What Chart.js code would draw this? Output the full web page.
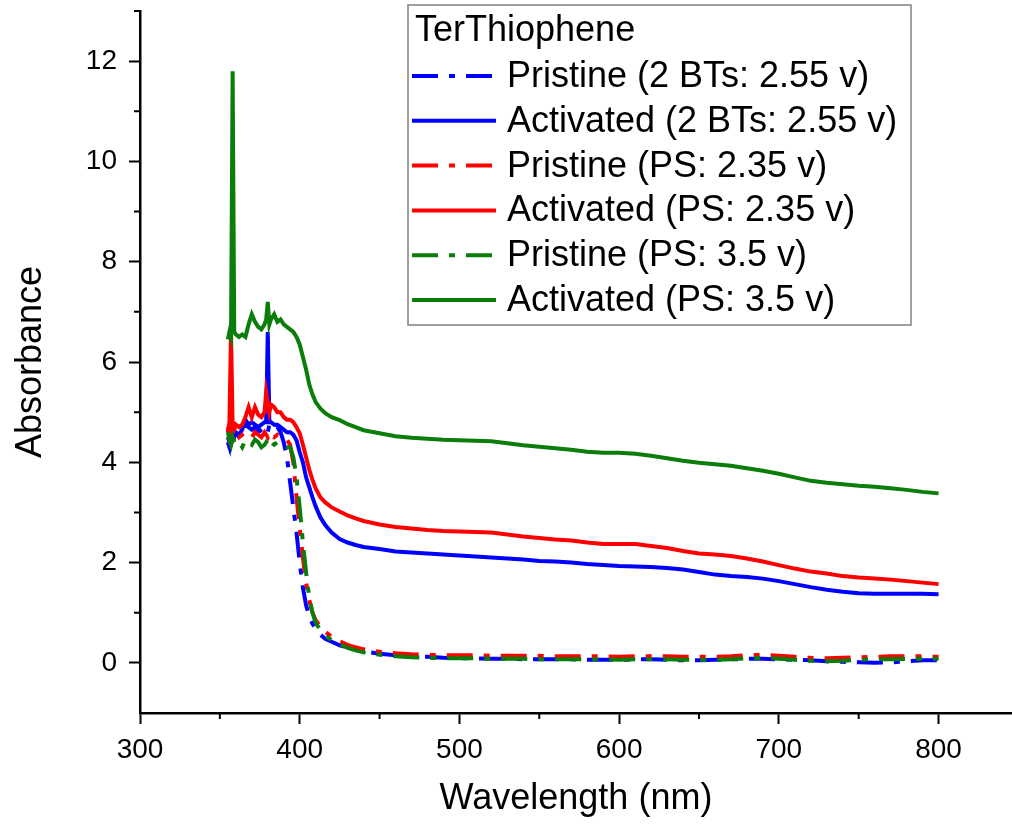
<!DOCTYPE html>
<html lang="en">
<head>
  <meta charset="UTF-8" />
  <title>TerThiophene Absorbance</title>
  <script src="https://cdn.jsdelivr.net/npm/chart.js"></script>
  <style>
    body { margin: 0; background: #fff; }
    .chart-box { width: 1012px; height: 826px; position: relative; }
  </style>
</head>
<body>
  <div class="chart-box">
    <canvas id="absChart"></canvas>
  </div>

  <script>
  // wavelength grid (nm), denser in the noisy 355-410 region
  const wavelength = [
    355, 356, 357, 358, 359, 360, 362, 364, 366, 368, 370, 372, 374, 376, 378,
    379, 380, 381, 382, 384, 386, 388, 390, 392, 394, 396, 398, 400, 402, 404, 406, 408, 410,
    413, 416, 420, 425, 430, 435, 440,
    450, 460, 470, 480, 490, 500, 510, 520, 530, 540, 550, 560, 570, 580, 590, 600, 610, 620,
    630, 640, 650, 660, 670, 680, 690, 700, 710, 720, 730, 740, 750, 760, 770, 780, 790, 800
  ];

  const pristine2BT = [
    4.4, 4.3, 4.6, 4.5, 4.6, 4.5, 4.55, 4.5, 4.75, 4.7, 4.65, 4.7, 4.6, 4.65, 4.7,
    4.7, 4.6, 4.75, 4.7, 4.65, 4.7, 4.6, 4.4, 4.1, 3.6, 3.1, 2.6, 2.0, 1.5, 1.15, 0.92, 0.78, 0.68,
    0.56, 0.48, 0.42, 0.35, 0.3, 0.26, 0.23,
    0.18, 0.15, 0.13, 0.12, 0.1, 0.09, 0.09, 0.08, 0.08, 0.07, 0.07, 0.07, 0.07, 0.06, 0.06, 0.06, 0.07, 0.07,
    0.06, 0.05, 0.05, 0.06, 0.07, 0.08, 0.08, 0.07, 0.06, 0.05, 0.03, 0.02, 0.01, 0.0, 0.01, 0.03, 0.05, 0.05
  ];
  const activated2BT = [
    4.5, 4.4, 4.6, 4.55, 4.5, 4.6, 4.55, 4.65, 4.85, 4.75, 4.8, 4.75, 4.7, 4.75, 4.8,
    4.8, 6.6, 4.8, 4.8, 4.75, 4.75, 4.7, 4.65, 4.6, 4.6, 4.55, 4.44, 4.2, 4.0, 3.7, 3.5, 3.3, 3.12,
    2.9, 2.75, 2.6, 2.47, 2.4, 2.35, 2.31,
    2.27, 2.22, 2.2, 2.18, 2.16, 2.14, 2.12, 2.1, 2.08, 2.06, 2.03, 2.02, 2.0, 1.97, 1.95, 1.93, 1.92, 1.91,
    1.89, 1.86, 1.81, 1.76, 1.73, 1.71, 1.68, 1.63, 1.57, 1.51, 1.46, 1.42, 1.39, 1.38, 1.38, 1.38, 1.38, 1.37
  ];
  const pristinePS235 = [
    4.7, 4.5, 4.6, 4.45, 4.55, 4.6, 4.5, 4.55, 4.6, 4.55, 4.5, 4.6, 4.55, 4.5, 4.6,
    4.55, 4.5, 4.6, 4.55, 4.5, 4.55, 4.5, 4.45, 4.45, 4.35, 4.0, 3.3, 2.7, 2.1, 1.6, 1.25, 1.0, 0.85,
    0.72, 0.62, 0.52, 0.43, 0.36, 0.31, 0.27,
    0.22, 0.19, 0.17, 0.16, 0.15, 0.15, 0.15, 0.14, 0.14, 0.14, 0.14, 0.13, 0.13, 0.13, 0.13, 0.12, 0.13, 0.13,
    0.13, 0.12, 0.12, 0.12, 0.13, 0.15, 0.16, 0.14, 0.12, 0.1, 0.09, 0.1, 0.11, 0.12, 0.13, 0.13, 0.13, 0.12
  ];
  const activatedPS235 = [
    4.6, 4.8, 6.6, 4.7, 4.65, 4.75, 4.7, 4.75, 4.9, 5.1, 4.9, 5.1, 4.95, 4.9, 5.0,
    5.4, 5.2, 5.0, 5.15, 5.1, 5.0, 5.0, 4.9, 4.85, 4.85, 4.8, 4.7, 4.58, 4.35, 4.1, 3.85, 3.65, 3.48,
    3.3, 3.2, 3.1, 3.02, 2.94, 2.88, 2.83,
    2.76, 2.71, 2.68, 2.65, 2.63, 2.62, 2.61, 2.6, 2.56, 2.52, 2.49, 2.46, 2.44, 2.4, 2.37, 2.37, 2.37, 2.33,
    2.29, 2.23, 2.18, 2.16, 2.13, 2.08, 2.02, 1.95, 1.88, 1.82, 1.78, 1.73, 1.7, 1.68, 1.66, 1.63, 1.6, 1.57
  ];
  const pristinePS35 = [
    4.6, 4.45, 4.35, 4.5, 4.4, 4.35, 4.4, 4.3, 4.45, 4.4, 4.35, 4.45, 4.4, 4.3, 4.35,
    4.4, 4.35, 4.3, 4.4, 4.35, 4.4, 4.35, 4.35, 4.3, 4.3, 4.1, 3.7, 3.1, 2.4, 1.8, 1.3, 1.0, 0.8,
    0.65, 0.55, 0.45, 0.37, 0.3, 0.25, 0.21,
    0.16, 0.13, 0.11, 0.1, 0.09, 0.09, 0.09, 0.08, 0.08, 0.08, 0.07, 0.07, 0.07, 0.07, 0.07, 0.06, 0.07, 0.07,
    0.07, 0.06, 0.06, 0.06, 0.07, 0.09, 0.1, 0.08, 0.06, 0.04, 0.03, 0.04, 0.06, 0.07, 0.07, 0.08, 0.08, 0.08
  ];
  const activatedPS35 = [
    6.45, 6.6, 6.5, 11.8, 6.6, 6.55, 6.5, 6.55, 6.5, 6.75, 6.95, 6.8, 6.7, 6.65, 6.75,
    6.85, 7.2, 6.75, 6.85, 6.95, 6.8, 6.85, 6.75, 6.7, 6.65, 6.6, 6.5, 6.35, 6.1, 5.85, 5.55, 5.35, 5.2,
    5.07, 4.98, 4.9, 4.84, 4.76, 4.7, 4.64,
    4.58, 4.52, 4.49, 4.47, 4.45, 4.44, 4.43, 4.42, 4.38, 4.34, 4.31, 4.28, 4.25, 4.21, 4.19, 4.19, 4.17, 4.13,
    4.08, 4.03, 3.99, 3.96, 3.93, 3.88, 3.83, 3.77, 3.7, 3.63, 3.59, 3.56, 3.53, 3.51, 3.48, 3.45, 3.41, 3.38
  ];

  const seriesLabels = [
    'Pristine (2 BTs: 2.55 v)', 'Activated (2 BTs: 2.55 v)',
    'Pristine (PS: 2.35 v)', 'Activated (PS: 2.35 v)',
    'Pristine (PS: 3.5 v)', 'Activated (PS: 3.5 v)'
  ];
  const seriesValues = [pristine2BT, activated2BT, pristinePS235, activatedPS235, pristinePS35, activatedPS35];
  const seriesColors = ['#0000ff', '#0000ff', '#ff0000', '#ff0000', '#0a7d0a', '#0a7d0a'];
  const seriesDashed = [true, false, true, false, true, false];
  const legendTitle = 'TerThiophene';

  const xMajorTicks = [300, 400, 500, 600, 700, 800];
  const xMinorTicks = [350, 450, 550, 650, 750, 850];
  const yMajorTicks = [0, 2, 4, 6, 8, 10, 12];
  const yMinorTicks = [1, 3, 5, 7, 9, 11, 13];

  const FONT = '"Liberation Sans", Arial, sans-serif';
  const dashDot = [26, 11, 6, 11];

  const datasets = seriesValues.map((vals, i) => ({
    label: seriesLabels[i],
    data: wavelength.map((w, j) => ({ x: w, y: vals[j] })),
    borderColor: seriesColors[i],
    borderWidth: 4,
    borderDash: seriesDashed[i] ? dashDot : [],
    pointRadius: 0,
    tension: 0,
    fill: false,
    order: seriesValues.length - i   // later series on top, like the original
  }));

  // short minor ticks outside the axes
  const minorTicks = {
    id: 'minorTicks',
    afterDraw(chart) {
      const { ctx, chartArea, scales } = chart;
      ctx.save();
      ctx.strokeStyle = '#000';
      ctx.lineWidth = 2;
      ctx.beginPath();
      yMinorTicks.forEach(v => {
        if (v < scales.y.min || v > scales.y.max) return;
        const py = scales.y.getPixelForValue(v);
        ctx.moveTo(chartArea.left - 6, py);
        ctx.lineTo(chartArea.left, py);
      });
      xMinorTicks.forEach(v => {
        if (v < scales.x.min || v > scales.x.max) return;
        const px = scales.x.getPixelForValue(v);
        ctx.moveTo(px, chartArea.bottom);
        ctx.lineTo(px, chartArea.bottom + 6);
      });
      ctx.stroke();
      ctx.restore();
    }
  };

  // boxed legend with a title, drawn inside the plot
  const boxLegend = {
    id: 'boxLegend',
    afterDatasetsDraw(chart) {
      const ctx = chart.ctx;
      const left = 408, top = 5, w = 503, h = 320;
      ctx.save();
      ctx.fillStyle = '#fff';
      ctx.fillRect(left, top, w, h);
      ctx.strokeStyle = '#808080';
      ctx.lineWidth = 1.5;
      ctx.strokeRect(left, top, w, h);

      ctx.font = '36px ' + FONT;
      ctx.fillStyle = '#000';
      ctx.textBaseline = 'middle';
      ctx.textAlign = 'left';
      ctx.fillText(legendTitle, 415, 31);

      seriesLabels.forEach((lab, i) => {
        const y = 76 + i * 44.8;
        ctx.strokeStyle = seriesColors[i];
        ctx.lineWidth = 4;
        ctx.setLineDash(seriesDashed[i] ? dashDot : []);
        ctx.beginPath();
        ctx.moveTo(412, y);
        ctx.lineTo(496, y);
        ctx.stroke();
        ctx.setLineDash([]);
        ctx.fillText(lab, 507, y + 1);
      });
      ctx.restore();
    }
  };

  new Chart(document.getElementById('absChart'), {
    type: 'line',
    data: { datasets },
    options: {
      responsive: true,
      maintainAspectRatio: false,
      animation: false,
      layout: { padding: { top: 11, right: 0, bottom: 0, left: 0 } },
      plugins: { legend: { display: false }, tooltip: { enabled: false } },
      scales: {
        x: {
          type: 'linear',
          min: 300,
          max: 846,
          afterBuildTicks: s => { s.ticks = xMajorTicks.map(v => ({ value: v })); },
          afterFit: s => { s.height = 113; s.paddingLeft = 0; s.paddingRight = 0; },
          border: { display: true, color: '#000', width: 2.5 },
          grid: { drawOnChartArea: false, drawTicks: true, tickLength: 11, tickWidth: 2, tickColor: '#000' },
          ticks: { color: '#000', padding: 9, maxRotation: 0, font: { family: FONT, size: 28 } },
          title: { display: true, text: 'Wavelength (nm)', color: '#000',
                   padding: { top: 0, bottom: 5 }, font: { family: FONT, size: 36 } }
        },
        y: {
          min: -1,
          max: 13,
          afterBuildTicks: s => { s.ticks = yMajorTicks.map(v => ({ value: v })); },
          afterFit: s => { s.width = 140; s.paddingTop = 0; s.paddingBottom = 0; },
          border: { display: true, color: '#000', width: 2.5 },
          grid: { drawOnChartArea: false, drawTicks: true, tickLength: 11, tickWidth: 2, tickColor: '#000' },
          ticks: { color: '#000', padding: 12, font: { family: FONT, size: 28 } },
          title: { display: true, text: 'Absorbance', color: '#000',
                   padding: { top: 9, bottom: 0 }, font: { family: FONT, size: 36 } }
        }
      }
    },
    plugins: [minorTicks, boxLegend]
  });
  </script>
</body>
</html>
